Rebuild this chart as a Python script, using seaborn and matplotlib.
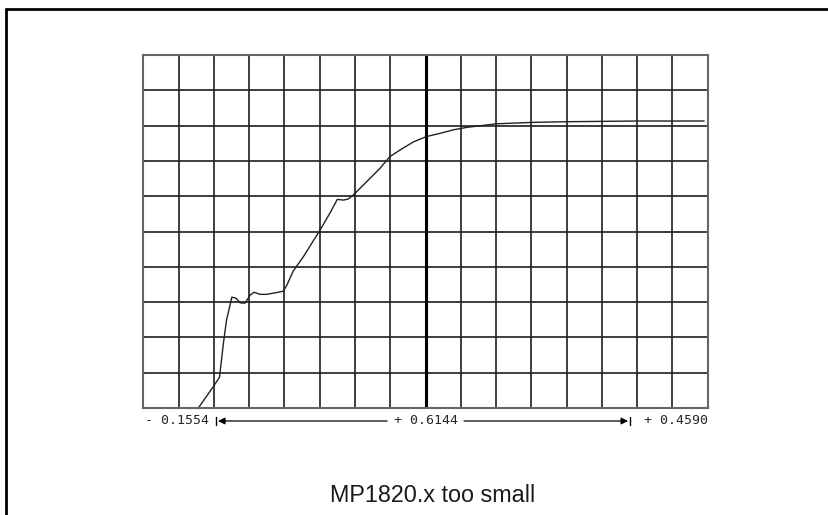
import matplotlib
matplotlib.use("Agg")
import matplotlib.pyplot as plt
import seaborn as sns
import pandas as pd
from matplotlib.lines import Line2D

# ---- data (grid units: 16 columns x 10 rows) ----
x_vals = [1.56, 1.98, 2.16, 2.27, 2.36, 2.51, 2.63, 2.74, 2.88, 3.03, 3.14, 3.31, 3.50,
          3.78, 3.97, 4.07, 4.25, 4.54, 5.01, 5.29, 5.50, 5.67, 5.81, 5.95, 6.38, 6.71,
          6.99, 7.28, 7.66, 8.03, 8.41, 8.79, 9.17, 9.50, 10.0, 11.0, 12.0, 13.0, 14.0,
          15.0, 15.9]
y_vals = [0.00, 0.60, 0.87, 1.83, 2.49, 3.14, 3.11, 2.98, 2.97, 3.20, 3.28, 3.22, 3.22,
          3.27, 3.31, 3.48, 3.88, 4.29, 5.04, 5.52, 5.91, 5.89, 5.92, 6.03, 6.46, 6.79,
          7.12, 7.31, 7.54, 7.69, 7.78, 7.88, 7.95, 7.99, 8.05, 8.09, 8.11, 8.12, 8.13,
          8.13, 8.13]
n_cols = 16
n_rows = 10
center_col = 8
left_label = "- 0.1554"
mid_label = "+ 0.6144"
right_label = "+ 0.4590"
title_text = "MP1820.x too small"

df = pd.DataFrame({"x": x_vals, "y": y_vals})

sns.set_theme(style="white")
plt.rcParams['font.family'] = ['DejaVu Sans']

fig = plt.figure(figsize=(8.29, 5.15), dpi=100)
ax = fig.add_axes([143.3 / 829, 1 - 408 / 515, 564.4 / 829, 353 / 515])

sns.lineplot(data=df, x="x", y="y", ax=ax, color="#222222", linewidth=1.0)

ax.set_xlim(0, n_cols)
ax.set_ylim(0, n_rows)
ax.set_xticks(range(n_cols + 1))
ax.set_yticks(range(n_rows + 1))
ax.grid(True, color="#1e1e1e", linewidth=1.2)
ax.axvline(center_col, color="black", linewidth=2.2)
ax.tick_params(left=False, bottom=False, labelleft=False, labelbottom=False)
ax.set_xlabel("")
ax.set_ylabel("")
for s in ax.spines.values():
    s.set_color("#666666")
    s.set_linewidth(1.5)

# ---- dimension line below the grid ----
mono = "DejaVu Sans Mono"
fs = 9.5
ytxt = -(421 - 408) / 35.3
px = 1 / 35.27
x_bar_l = (216 - 143.3) * px
x_tip_l = (218 - 143.3) * px
x_tip_r = (628 - 143.3) * px
x_bar_r = (630 - 143.3) * px
ax.text(0.05, ytxt, left_label, ha="left", va="center", fontsize=fs, family=mono,
        clip_on=False)
ax.text(center_col, ytxt, mid_label, ha="center", va="center", fontsize=fs, family=mono,
        clip_on=False)
ax.text(n_cols, ytxt, right_label, ha="right", va="center", fontsize=fs, family=mono,
        clip_on=False)
ax.annotate("", xy=(x_tip_l, ytxt), xytext=((387 - 143.3) * px, ytxt),
            arrowprops=dict(arrowstyle="-|>", lw=0.9, color="black", mutation_scale=10,
                            shrinkA=0, shrinkB=0),
            annotation_clip=False)
ax.annotate("", xy=(x_tip_r, ytxt), xytext=((464 - 143.3) * px, ytxt),
            arrowprops=dict(arrowstyle="-|>", lw=0.9, color="black", mutation_scale=10,
                            shrinkA=0, shrinkB=0),
            annotation_clip=False)
bh = 4 / 35.3
ax.plot([x_bar_l, x_bar_l], [ytxt - bh, ytxt + bh], color="black", lw=1.0, clip_on=False)
ax.plot([x_bar_r, x_bar_r], [ytxt - bh, ytxt + bh], color="black", lw=1.0, clip_on=False)

# ---- outer frame ----
fig.add_artist(Line2D([6 / 829, 6 / 829], [0, 1 - 9 / 515], transform=fig.transFigure,
                      color="black", linewidth=2.0))
fig.add_artist(Line2D([6 / 829, 1.0], [1 - 9 / 515, 1 - 9 / 515], transform=fig.transFigure,
                      color="black", linewidth=2.0))

fig.text(433 / 829, 1 - 495 / 515, title_text, ha="center", va="center", fontsize=16.8,
         family="Liberation Sans", color="#1a1a1a")

fig.savefig("out.png", dpi=100)
